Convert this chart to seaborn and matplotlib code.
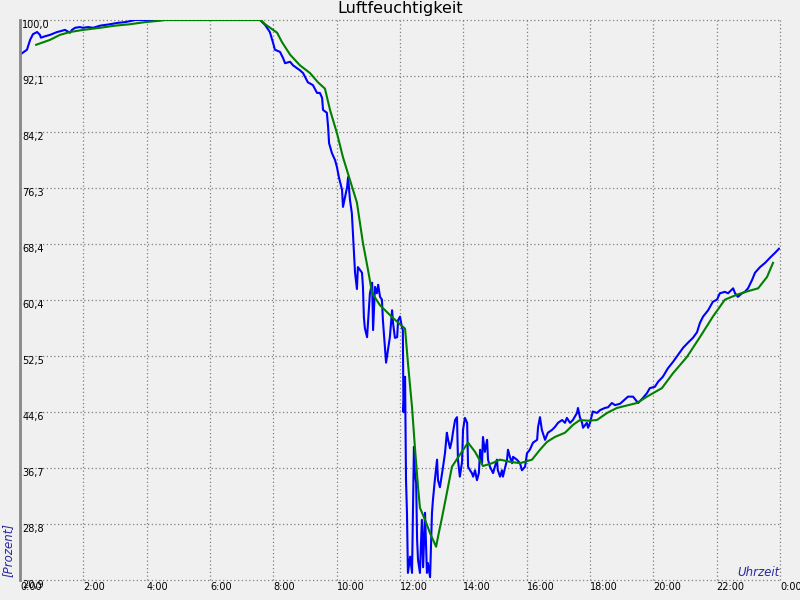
import matplotlib
matplotlib.use("Agg")
import matplotlib.pyplot as plt
import seaborn as sns
import numpy as np
import pandas as pd

# Messwerte (Stunden, Prozent)
mess_zeit = [
    0.00, 0.22, 0.32, 0.41, 0.54, 0.63, 0.66, 0.79, 0.95, 1.17, 1.26, 1.42, 1.58, 1.64, 1.74,
    1.89, 1.99, 2.15, 2.31, 2.53, 2.68, 2.84, 3.09, 3.32, 3.54, 3.63, 7.58, 7.74, 7.89, 7.99,
    8.05, 8.21, 8.31, 8.37, 8.53, 8.62, 8.84, 8.94, 9.09, 9.25, 9.38, 9.47, 9.54, 9.57, 9.69,
    9.73, 9.76, 9.85, 9.95, 10.01, 10.07, 10.17, 10.20, 10.33, 10.36, 10.42, 10.48, 10.52, 10.55,
    10.58, 10.64, 10.67, 10.80, 10.83, 10.86, 10.89, 10.96, 10.99, 11.05, 11.12, 11.15, 11.21,
    11.27, 11.31, 11.37, 11.43, 11.46, 11.56, 11.62, 11.68, 11.75, 11.78, 11.84, 11.91, 11.94,
    12.00, 12.06, 12.09, 12.11, 12.16, 12.19, 12.22, 12.25, 12.32, 12.38, 12.41, 12.44, 12.47,
    12.51, 12.54, 12.57, 12.63, 12.69, 12.73, 12.79, 12.85, 12.88, 12.95, 13.01, 13.04, 13.10,
    13.17, 13.20, 13.26, 13.33, 13.36, 13.42, 13.48, 13.52, 13.58, 13.64, 13.67, 13.74, 13.80,
    13.83, 13.89, 13.96, 13.99, 14.05, 14.12, 14.15, 14.21, 14.27, 14.31, 14.37, 14.43, 14.49,
    14.53, 14.59, 14.62, 14.68, 14.75, 14.78, 14.84, 14.94, 15.06, 15.09, 15.16, 15.22, 15.25,
    15.38, 15.41, 15.47, 15.54, 15.57, 15.69, 15.79, 15.85, 15.95, 16.01, 16.10, 16.20, 16.33,
    16.36, 16.42, 16.48, 16.58, 16.67, 16.80, 16.89, 16.99, 17.12, 17.21, 17.27, 17.37, 17.46,
    17.59, 17.62, 17.68, 17.75, 17.78, 17.90, 17.94, 18.00, 18.09, 18.22, 18.32, 18.47, 18.57,
    18.69, 18.79, 18.95, 19.20, 19.36, 19.52, 19.67, 19.80, 19.89, 20.05, 20.15, 20.30, 20.46,
    20.62, 20.78, 20.94, 21.09, 21.25, 21.38, 21.47, 21.57, 21.73, 21.88, 22.01, 22.10, 22.26,
    22.36, 22.52, 22.58, 22.67, 22.80, 22.89, 22.99, 23.12, 23.21, 23.37, 23.53, 23.68, 23.84,
    23.97,
]
mess_wert = [
    95.1, 95.8, 97.2, 98.0, 98.3, 97.9, 97.5, 97.7, 97.9, 98.3, 98.4, 98.6, 98.2, 98.6, 98.9,
    99.0, 98.9, 99.0, 98.9, 99.2, 99.3, 99.4, 99.6, 99.7, 99.9, 100.0, 100.0, 99.3, 98.3, 96.8,
    95.8, 95.5, 94.6, 93.9, 94.1, 93.6, 92.9, 92.5, 91.2, 90.8, 89.7, 89.7, 89.0, 87.3, 86.9,
    84.9, 82.6, 81.2, 80.2, 79.2, 77.8, 76.0, 73.6, 76.4, 77.8, 74.6, 72.7, 69.4, 67.1,
    64.3, 62.0, 65.1, 64.3, 62.3, 58.0, 56.5, 55.2, 57.2, 61.4, 62.9, 56.2, 62.3,
    61.4, 62.6, 60.9, 60.5, 57.6, 51.6, 53.4, 55.2, 59.0, 57.2, 55.1, 55.2, 57.6,
    58.1, 56.6, 56.2, 44.6, 49.6, 35.0, 30.4, 21.9, 24.2, 21.9, 30.4, 39.7, 36.0,
    34.6, 26.6, 23.7, 21.9, 29.4, 22.7, 30.4, 21.9, 23.3, 21.3, 30.4, 32.2, 35.0,
    37.9, 35.0, 34.0, 36.0, 36.9, 38.8, 41.7, 40.7, 39.5, 40.7, 41.7, 43.5, 43.9,
    37.9, 35.5, 37.6, 42.1, 43.8, 43.1, 36.9, 36.4, 36.0, 35.5, 36.4, 35.0, 36.0,
    39.3, 37.4, 41.1, 39.0, 40.7, 37.9, 36.9, 36.0, 37.9, 36.4, 35.5, 36.4, 35.5,
    37.9, 39.3, 38.3, 37.4, 38.3, 37.9, 37.4, 36.4, 36.9, 38.8, 39.3, 40.3, 40.7,
    42.5, 43.9, 42.1, 40.7, 41.7, 42.1, 42.5, 43.1, 43.5, 43.1, 43.8, 43.1, 43.5,
    44.5, 45.2, 43.9, 43.1, 42.4, 43.1, 42.4, 43.1, 44.7, 44.5, 44.9, 45.2, 45.3,
    45.9, 45.6, 45.8, 46.8, 46.8, 45.9, 46.6, 47.3, 48.0, 48.2, 48.9, 49.6, 50.8,
    51.7, 52.7, 53.7, 54.4, 55.1, 55.9, 57.2, 58.1, 59.0, 60.2, 60.5, 61.4, 61.6,
    61.4, 62.1, 61.4, 60.9, 61.4, 61.6, 62.1, 63.3, 64.3, 65.1, 65.7, 66.4, 67.1,
    67.7,
]

# geglaetteter Verlauf
mittel_zeit = [
    0.51, 0.95, 1.26, 1.58, 1.99, 2.53, 3.00, 3.47, 3.95, 4.42, 4.58, 7.61, 7.74, 8.12, 8.27,
    8.53, 8.84, 9.16, 9.41, 9.63, 9.79, 10.01, 10.20, 10.42, 10.64, 10.83, 10.99, 11.12, 11.37,
    11.78, 12.16, 12.25, 12.38, 12.47, 12.57, 12.63, 12.79, 12.95, 13.14, 13.20, 13.33, 13.48,
    13.64, 13.89, 14.15, 14.37, 14.62, 14.91, 15.16, 15.47, 15.79, 16.17, 16.42, 16.64, 16.89,
    17.21, 17.46, 17.68, 17.94, 18.22, 18.54, 18.85, 19.48, 19.80, 20.27, 20.62, 21.06, 21.47,
    21.88, 22.26, 22.64, 22.99, 23.31, 23.59, 23.78,
]
mittel_wert = [
    96.5, 97.2, 97.9, 98.3, 98.6, 98.9, 99.2, 99.4, 99.7, 99.9, 100.0, 100.0, 99.4, 98.2, 96.9,
    95.1, 93.6, 92.5, 91.2, 90.3, 87.3, 84.0, 80.6, 77.4, 74.2, 68.5, 64.7, 61.4, 59.7,
    57.9, 56.4, 51.6, 45.3, 39.7, 34.0, 31.1, 29.4, 27.5, 25.6, 27.0, 29.8, 33.2,
    36.9, 38.6, 40.3, 39.0, 37.0, 37.4, 37.9, 37.6, 37.4, 37.9, 39.3, 40.4, 41.1,
    41.7, 42.8, 43.5, 43.4, 43.5, 44.5, 45.2, 45.9, 46.8, 48.0, 50.1, 52.4, 55.2,
    58.1, 60.5, 61.2, 61.7, 62.1, 63.7, 65.7,
]

y_min, y_max = 20.9, 100.0
y_ticks = [100.0, 92.1, 84.2, 76.3, 68.4, 60.4, 52.5, 44.6, 36.7, 28.8, 20.9]
x_ticks = list(range(0, 25, 2))
x_labels = [f"{h % 24}:00" for h in x_ticks]

bg = "#f0f0f0"
plt.rcParams["font.family"] = ["DejaVu Sans"]

fig = plt.figure(figsize=(8, 6), dpi=100, facecolor=bg)
ax = fig.add_axes([0.025, 20 / 600, 0.95, 560 / 600])
ax.set_facecolor(bg)

mess = pd.DataFrame({"t": mess_zeit, "v": mess_wert})
mittel = pd.DataFrame({"t": mittel_zeit, "v": mittel_wert})
sns.lineplot(data=mess, x="t", y="v", ax=ax, color="#0000ff", linewidth=1.5, sort=False, estimator=None)
sns.lineplot(data=mittel, x="t", y="v", ax=ax, color="#008000", linewidth=1.5, sort=False, estimator=None)

ax.set_xlim(0, 24)
ax.set_ylim(y_min, y_max)
ax.set_xlabel("")
ax.set_ylabel("")

ax.set_xticks(x_ticks)
ax.set_xticklabels(x_labels, fontsize=7)
for lbl in ax.get_xticklabels():
    lbl.set_horizontalalignment("left")
ax.set_yticks(y_ticks)
ax.set_yticklabels([f"{v:.1f}".replace(".", ",") for v in y_ticks], fontsize=7)
for lbl in ax.get_yticklabels():
    lbl.set_horizontalalignment("left")
    lbl.set_verticalalignment("top")
ax.tick_params(axis="x", length=0, pad=1.5)
ax.tick_params(axis="y", length=0, pad=-1.5)

ax.grid(True, color="#808080", linestyle=(0, (1, 2)), linewidth=0.9)
for line in ax.get_xgridlines() + ax.get_ygridlines():
    line.set_clip_on(False)

for side in ["top", "right", "bottom"]:
    ax.spines[side].set_visible(False)
ax.spines["left"].set_color("#888888")
ax.spines["left"].set_linewidth(2)

fig.text(0.5, 1 - 8 / 600, "Luftfeuchtigkeit", ha="center", va="center", fontsize=11.5)
fig.text(8 / 800, 1 - 550 / 600, "[Prozent]", rotation=90, ha="center", va="center",
         fontsize=8.5, style="italic", color="#2828a0")
fig.text(780 / 800, 1 - 572 / 600, "Uhrzeit", ha="right", va="center",
         fontsize=8.5, style="italic", color="#2828a0")

fig.savefig("out.png", dpi=100, facecolor=bg)
